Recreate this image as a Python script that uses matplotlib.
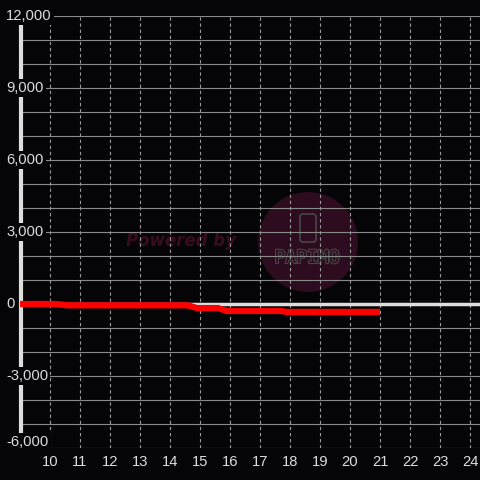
import matplotlib

matplotlib.use("Agg")
import matplotlib.pyplot as plt
import matplotlib.patheffects as pe
from matplotlib.lines import Line2D
from matplotlib.patches import Circle, FancyBboxPatch

# data
x_vals = [9.0, 10.2, 10.6, 14.6, 14.9, 15.6, 15.9, 17.7, 17.9, 21.0]
y_vals = [0, 0, -55, -55, -170, -170, -290, -290, -330, -330]
x_ticks = list(range(10, 25))
y_ticks = [12000, 9000, 6000, 3000, 0, -3000, -6000]
y_labels = ["12,000", "9,000", "6,000", "3,000", "0", "-3,000", "-6,000"]

BG = "#050407"
FG = "#dddddd"
GRID = "#8a8a8a"
WM = "#2d0c1f"

plt.rcParams["font.family"] = ["Liberation Sans", "DejaVu Sans"]

fig = plt.figure(figsize=(4.8, 4.8), dpi=100, facecolor=BG)
ax = fig.add_axes([20 / 480, 1 - 448 / 480, 460 / 480, 432 / 480])
ax.set_xlim(9, 24.333)
ax.set_ylim(-6000, 12000)
for s in ax.spines.values():
    s.set_visible(False)

# watermark (behind the axes)
fig.patches.append(Circle((308 / 480, 1 - 242 / 480), 50 / 480, transform=fig.transFigure,
                          facecolor=WM, edgecolor="none", zorder=0.5))
fig.patches.append(FancyBboxPatch((300 / 480, 1 - 242 / 480), 16 / 480, 28 / 480,
                                  boxstyle="round,pad=0,rounding_size=0.006",
                                  transform=fig.transFigure, facecolor="none",
                                  edgecolor="#474747", lw=1.2, zorder=0.6))
fig.text(307 / 480, 1 - 258 / 480, "PAPIMO", color=WM, fontsize=13,
         ha="center", va="center", fontfamily="DejaVu Sans Mono", zorder=0.6,
         path_effects=[pe.withStroke(linewidth=1.6, foreground="#474747")])
fig.text(181 / 480, 1 - 241 / 480, "Powered by", color="#3a0c20", fontsize=12,
         fontweight="bold", fontstyle="italic", ha="center", va="center", zorder=0.6,
         fontfamily="DejaVu Sans")
ax.set_zorder(1)
ax.patch.set_alpha(0)

# grid
for yv in range(-6000, 12001, 1000):
    ax.axhline(yv, color=GRID, lw=0.8, zorder=1)
for xv in x_ticks:
    ax.axvline(xv, color="#999999", lw=0.8, ls=(0, (3, 2.5)), zorder=1)

# zero line and y axis line
ax.axhline(0, color=FG, lw=2.5, zorder=3)
ax.add_line(Line2D([0.003, 0.003], [0.982, 0.012], transform=ax.transAxes,
                   color=FG, lw=3, clip_on=False, zorder=3))

# series
ax.plot(x_vals, y_vals, color="#ff0000", lw=4.5, solid_joinstyle="miter",
        solid_capstyle="butt", zorder=4)

# y labels with background boxes
for yv, lab in zip(y_ticks, y_labels):
    off = 250 if yv == -6000 else 0
    ax.text(-0.03, yv + off, lab, transform=ax.get_yaxis_transform(), color=FG,
            fontsize=10.6, ha="left", va="center", zorder=5,
            bbox=dict(facecolor=BG, edgecolor="none", pad=1.5), clip_on=False)
ax.set_yticks([])

ax.set_xticks(x_ticks)
ax.set_xticklabels([str(t) for t in x_ticks], color=FG, fontsize=10.6)
ax.tick_params(axis="x", length=0, pad=5)

fig.savefig("out.png", dpi=100, facecolor=BG)
